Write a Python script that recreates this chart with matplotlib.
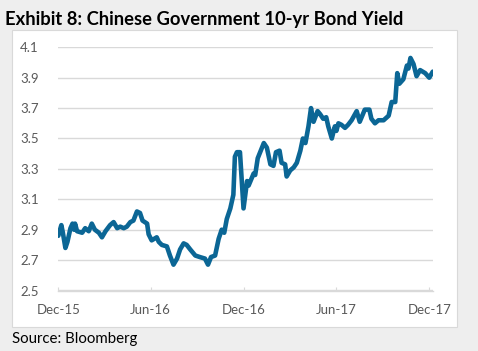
"""Chinese Government 10-yr bond yield, Dec-15 to Dec-17."""
import matplotlib
matplotlib.use("Agg")
import matplotlib.pyplot as plt
import matplotlib.patches as mpatches
import numpy as np

dates = [
    "2015-12-31", "2016-01-06", "2016-01-09", "2016-01-14", "2016-01-18", "2016-01-24",
    "2016-01-28", "2016-01-31", "2016-02-02", "2016-02-06", "2016-02-16", "2016-02-22",
    "2016-02-29", "2016-03-06", "2016-03-12", "2016-03-20", "2016-03-26", "2016-04-02",
    "2016-04-11", "2016-04-18", "2016-04-25", "2016-05-01", "2016-05-08", "2016-05-14",
    "2016-05-21", "2016-05-27", "2016-06-03", "2016-06-09", "2016-06-14", "2016-06-23",
    "2016-06-26", "2016-07-02", "2016-07-12", "2016-07-16", "2016-07-22", "2016-08-01",
    "2016-08-07", "2016-08-14", "2016-08-21", "2016-08-27", "2016-09-03", "2016-09-09",
    "2016-09-16", "2016-09-26", "2016-10-05", "2016-10-15", "2016-10-21", "2016-10-27",
    "2016-11-04", "2016-11-11", "2016-11-17", "2016-11-22", "2016-11-27", "2016-12-04",
    "2016-12-10", "2016-12-13", "2016-12-17", "2016-12-23", "2016-12-30",
    "2017-01-06", "2017-01-09", "2017-01-19", "2017-01-22", "2017-01-27", "2017-02-08",
    "2017-02-14", "2017-02-21", "2017-02-27", "2017-03-04", "2017-03-11", "2017-03-15",
    "2017-03-22", "2017-03-25", "2017-04-01", "2017-04-08", "2017-04-14", "2017-04-21",
    "2017-04-26", "2017-05-01", "2017-05-07", "2017-05-12", "2017-05-17", "2017-05-25",
    "2017-05-30", "2017-06-05", "2017-06-11", "2017-06-15", "2017-06-22", "2017-06-28",
    "2017-07-01", "2017-07-05", "2017-07-11", "2017-07-18", "2017-07-24", "2017-07-31",
    "2017-08-10", "2017-08-16", "2017-08-26", "2017-09-04", "2017-09-08", "2017-09-15",
    "2017-09-22", "2017-10-02", "2017-10-12", "2017-10-18", "2017-10-25", "2017-10-29",
    "2017-11-02", "2017-11-10", "2017-11-17", "2017-11-20", "2017-11-24", "2017-11-30",
    "2017-12-06", "2017-12-13", "2017-12-23", "2017-12-31", "2018-01-07",
]
yields = [
    2.86, 2.93, 2.88, 2.78, 2.82, 2.91,
    2.94, 2.90, 2.94, 2.89, 2.88, 2.91,
    2.89, 2.94, 2.90, 2.88, 2.85, 2.89,
    2.93, 2.95, 2.91, 2.92, 2.91, 2.92,
    2.95, 2.96, 3.02, 3.01, 2.96, 2.94,
    2.87, 2.83, 2.85, 2.82, 2.80, 2.79,
    2.73, 2.67, 2.71, 2.77, 2.81, 2.80,
    2.77, 2.73, 2.72, 2.71, 2.67, 2.72,
    2.73, 2.84, 2.90, 2.88, 2.97, 3.04,
    3.13, 3.38, 3.41, 3.41, 3.04,
    3.22, 3.19, 3.27, 3.26, 3.37, 3.47,
    3.44, 3.33, 3.32, 3.41, 3.42, 3.34,
    3.33, 3.25, 3.29, 3.31, 3.34, 3.42,
    3.50, 3.47, 3.58, 3.70, 3.61, 3.68,
    3.66, 3.63, 3.64, 3.58, 3.50, 3.58,
    3.55, 3.60, 3.59, 3.57, 3.59, 3.62,
    3.68, 3.61, 3.69, 3.69, 3.63, 3.60,
    3.62, 3.62, 3.65, 3.74, 3.74, 3.93,
    3.86, 3.89, 3.98, 3.96, 4.03, 3.99,
    3.91, 3.95, 3.93, 3.90, 3.94,
]
tick_dates = ["2015-12-31", "2016-06-30", "2016-12-31", "2017-06-30", "2017-12-31"]
tick_labels = ["Dec-15", "Jun-16", "Dec-16", "Jun-17", "Dec-17"]
y_ticks = [2.5, 2.7, 2.9, 3.1, 3.3, 3.5, 3.7, 3.9, 4.1]

plt.rcParams["font.family"] = ["Lato", "DejaVu Sans"]

x = np.array(dates, dtype="datetime64[D]")
fig = plt.figure(figsize=(4.78, 3.51), dpi=100, facecolor="#eeeeee")

# white panel behind the chart
panel = mpatches.Rectangle((12 / 478, 1 - 327 / 351), 445 / 478, 297 / 351,
                           transform=fig.transFigure, facecolor="white",
                           edgecolor="#d9d9d9", linewidth=0.8, zorder=-5)
fig.patches.append(panel)

ax = fig.add_axes([58.3 / 478, 1 - 290.5 / 351, 375 / 478, 243.2 / 351])
ax.set_facecolor("none")
ax.set_zorder(2)
ax.plot(x, yields, color="#0b6695", linewidth=3.3, solid_joinstyle="round",
        solid_capstyle="round", zorder=3)

ax.set_ylim(2.5, 4.1)
ax.set_yticks(y_ticks)
ax.set_yticklabels([f"{v:.1f}" for v in y_ticks])
ax.set_xlim(np.datetime64("2015-12-31"), np.datetime64("2018-01-08"))
ax.set_xticks(np.array(tick_dates, dtype="datetime64[D]"))
ax.set_xticklabels(tick_labels)

ax.grid(axis="y", color="#d9d9d9", linewidth=1.0)
ax.set_axisbelow(True)
for s in ["top", "right", "left"]:
    ax.spines[s].set_visible(False)
ax.spines["bottom"].set_color("#d9d9d9")
ax.spines["bottom"].set_linewidth(1.0)
ax.tick_params(axis="y", length=0, pad=14, labelsize=9.5, labelcolor="#595959")
ax.tick_params(axis="x", direction="in", length=3, color="#d9d9d9", pad=10,
               labelsize=9.5, labelcolor="#595959")

fig.text(5 / 478, 1 - 19 / 351, "Exhibit 8: Chinese Government 10-yr Bond Yield",
         fontsize=13.2, fontweight="bold", color="black", va="center", ha="left")
fig.text(12 / 478, 1 - 339 / 351, "Source: Bloomberg", fontsize=10.8,
         color="black", va="center", ha="left")

fig.savefig("out.png", dpi=100, facecolor=fig.get_facecolor())
